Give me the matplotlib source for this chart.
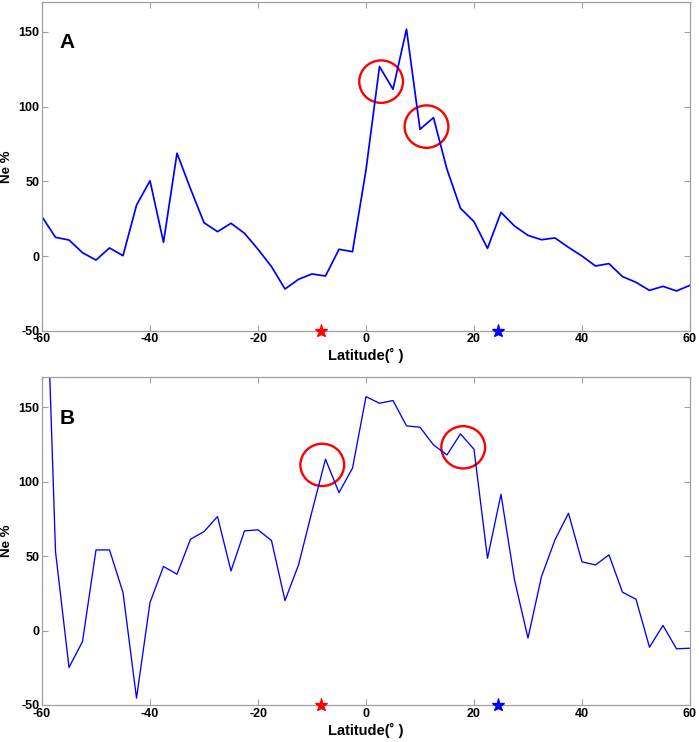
import matplotlib
matplotlib.use("Agg")
import matplotlib.pyplot as plt
from matplotlib.patches import Ellipse

plt.rcParams['font.family'] = ['Liberation Sans', 'DejaVu Sans']
plt.rcParams['axes.unicode_minus'] = False

lat = [-60 + 2.5 * i for i in range(49)]

ne_a = [26.3, 12.5, 10.7, 2.2, -2.7, 5.4, 0.2, 34.0, 50.4, 9.2,
        68.8, 45.0, 22.3, 16.3, 21.9, 15.2, 4.5, -7.1, -22.1, -15.6,
        -12.0, -13.4, 4.5, 2.9, 57.6, 126.8, 111.6, 151.8, 84.8, 92.6,
        58.0, 31.9, 23.0, 5.1, 29.2, 20.1, 13.8, 10.9, 12.1, 5.8,
        0.0, -6.7, -5.1, -13.8, -17.6, -23.0, -20.3, -23.4, -19.6]

ne_b = [330.0, 53.0, -24.8, -7.4, 54.1, 54.1, 25.5, -45.4, 18.8, 43.0,
        37.8, 61.3, 66.4, 76.5, 40.0, 66.9, 67.6, 60.4, 20.1, 44.0,
        80.0, 115.0, 92.6, 109.0, 157.0, 152.6, 154.4, 137.4, 136.5, 124.6,
        117.9, 132.0, 121.7, 48.5, 91.5, 34.0, -5.1, 36.2, 60.9, 78.7,
        46.1, 44.0, 50.8, 25.7, 21.0, -11.2, 3.4, -12.3, -11.9]

circles_a = [(2.8, 116.7), (11.2, 86.6)]
circles_b = [(-8.1, 111.2), (18.0, 123.0)]
star_red = -8.4
star_blue = 24.5

panels = [
    ("A", ne_a, circles_a, 1.25, [0.0601, 0.5543, 0.927, 0.443]),
    ("B", ne_b, circles_b, 0.95, [0.0601, 0.0499, 0.927, 0.4416]),
]

fig = plt.figure(figsize=(6.99, 7.42), dpi=100)
grey = '#a0a0a0'
for name, vals, circs, lw, pos in panels:
    ax = fig.add_axes(pos)
    ax.plot(lat, vals, color='#0000ff', lw=lw)
    for cx, cy in circs:
        ax.add_patch(Ellipse((cx, cy), 8.1, 28.4, fill=False,
                             edgecolor='#ff0000', lw=1.7))
    ax.plot([star_red], [-50], marker='*', color='#ff0000', ms=9.5,
            clip_on=False, zorder=5, ls='none')
    ax.plot([star_blue], [-50], marker='*', color='#0000ff', ms=9.5,
            clip_on=False, zorder=5, ls='none')
    ax.set_xlim(-60, 60)
    ax.set_ylim(-50, 170)
    ax.set_xticks([-60, -40, -20, 0, 20, 40, 60])
    ax.set_yticks([-50, 0, 50, 100, 150])
    ax.tick_params(direction='in', length=4, width=0.8, color=grey,
                   top=True, right=True, labelsize=9, pad=2)
    for lab in ax.get_xticklabels() + ax.get_yticklabels():
        lab.set_fontweight('bold')
    for sp in ax.spines.values():
        sp.set_color(grey)
        sp.set_linewidth(0.9)
    ax.set_xlabel('Latitude(˚ )', fontsize=10.5, fontweight='bold', labelpad=2)
    ax.set_ylabel('Ne %', fontsize=9.5, fontweight='bold')
    ax.yaxis.set_label_coords(-0.045, 0.5)
    ax.text(-55.4, 142.6, name, fontsize=15, fontweight='bold',
            ha='center', va='center')

fig.savefig('out.png', dpi=100)
